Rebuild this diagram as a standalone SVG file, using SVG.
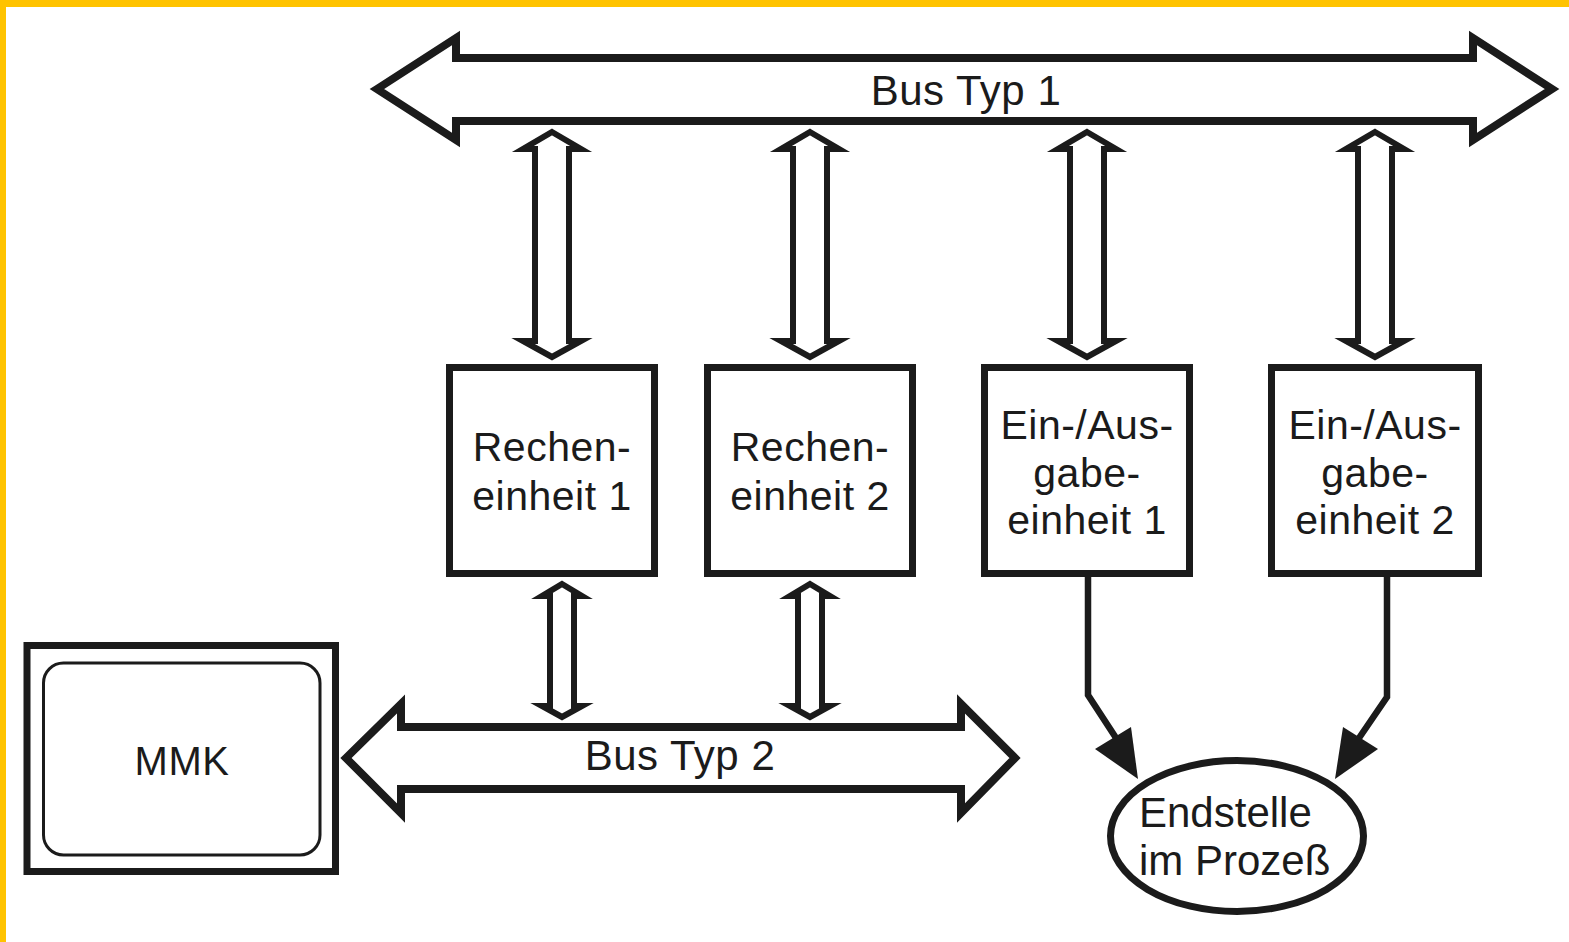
<svg xmlns="http://www.w3.org/2000/svg" width="1569" height="942" viewBox="0 0 1569 942">
<style>
.ln{fill:none;stroke:#1b1b1b;stroke-linejoin:miter;stroke-miterlimit:10}
.bus{fill:#fff;stroke:#1b1b1b;stroke-width:8;stroke-linejoin:miter;stroke-miterlimit:10}
.va{fill:#fff;stroke:#1b1b1b;stroke-width:6;stroke-linejoin:miter;stroke-miterlimit:10}
.box{fill:#fff;stroke:#1b1b1b;stroke-width:7}
.t{font-family:"Liberation Sans",Arial,sans-serif;font-size:41px;fill:#1b1b1b;text-anchor:middle;letter-spacing:0.5px}
.tl{font-family:"Liberation Sans",Arial,sans-serif;font-size:42px;fill:#1b1b1b}
.ah{fill:#1b1b1b;stroke:none}
</style>
<rect x="0" y="0" width="1569" height="942" fill="#fff"/>
<rect x="0" y="0" width="1569" height="7" fill="#FFC300"/>
<rect x="0" y="0" width="6" height="942" fill="#FFC300"/>

<g id="bus1">
<polygon class="bus" points="377,89 456,38 456,58 1473,58 1473,38 1552,89 1473,140 1473,121 456,121 456,140"/>
<text class="t" x="966" y="105" style="font-size:42px">Bus Typ 1</text>
</g>

<g id="bus2">
<polygon class="bus" points="346,758 401,704 401,727 961,727 961,704 1015,758 961,813 961,789 401,789 401,813"/>
<text class="t" x="680" y="770" style="font-size:42px">Bus Typ 2</text>
</g>

<g id="mmk">
<rect x="27" y="645.5" width="308.5" height="226" fill="#fff" stroke="#1b1b1b" stroke-width="7"/>
<rect x="43.5" y="663" width="276.5" height="192" rx="20" ry="20" fill="#fff" stroke="#1b1b1b" stroke-width="3"/>
<text class="t" x="182" y="775" style="font-size:40px">MMK</text>
</g>

<g id="rechen1">
<rect class="box" x="449.5" y="367.5" width="205" height="206"/>
<text class="t" x="552" y="461">Rechen-</text>
<text class="t" x="552" y="510">einheit 1</text>
</g>

<g id="rechen2">
<rect class="box" x="707.5" y="367.5" width="205" height="206"/>
<text class="t" x="810" y="461">Rechen-</text>
<text class="t" x="810" y="510">einheit 2</text>
</g>

<g id="ea1">
<rect class="box" x="984.5" y="367.5" width="205" height="206"/>
<text class="t" x="1087" y="439">Ein-/Aus-</text>
<text class="t" x="1087" y="487">gabe-</text>
<text class="t" x="1087" y="534">einheit 1</text>
</g>

<g id="ea2">
<rect class="box" x="1271.5" y="367.5" width="207" height="206"/>
<text class="t" x="1375" y="439">Ein-/Aus-</text>
<text class="t" x="1375" y="487">gabe-</text>
<text class="t" x="1375" y="534">einheit 2</text>
</g>

<g id="endstelle">
<ellipse cx="1237" cy="836" rx="126.5" ry="75.5" fill="#fff" stroke="#1b1b1b" stroke-width="7"/>
<text class="tl" x="1139" y="827">Endstelle</text>
<text class="tl" x="1139" y="875">im Prozeß</text>
</g>

<g id="connectors">
<polygon class="va" points="552,132 581,149 569,149 569,341 581,341 552,357 523,341 535,341 535,149 523,149"/>
<polygon class="va" points="810,132 839,149 827,149 827,341 839,341 810,357 781,341 793,341 793,149 781,149"/>
<polygon class="va" points="1087,132 1116,149 1104,149 1104,341 1116,341 1087,357 1058,341 1070,341 1070,149 1058,149"/>
<polygon class="va" points="1375,132 1404,149 1392,149 1392,341 1404,341 1375,357 1346,341 1358,341 1358,149 1346,149"/>
<polygon class="va" points="562,584 582,596 574,596 574,706 582,706 562,717 542,706 550,706 550,596 542,596"/>
<polygon class="va" points="810,584 830,596 822,596 822,706 830,706 810,717 790,706 798,706 798,596 790,596"/>
<polyline class="ln" stroke-width="6.5" points="1088,576 1088,695 1118,741"/>
<polygon class="ah" points="1138,779 1095,749 1131,727"/>
<polyline class="ln" stroke-width="6.5" points="1387,576 1387,697 1357,741"/>
<polygon class="ah" points="1335,779 1378,749 1343,727"/>
</g>
</svg>
